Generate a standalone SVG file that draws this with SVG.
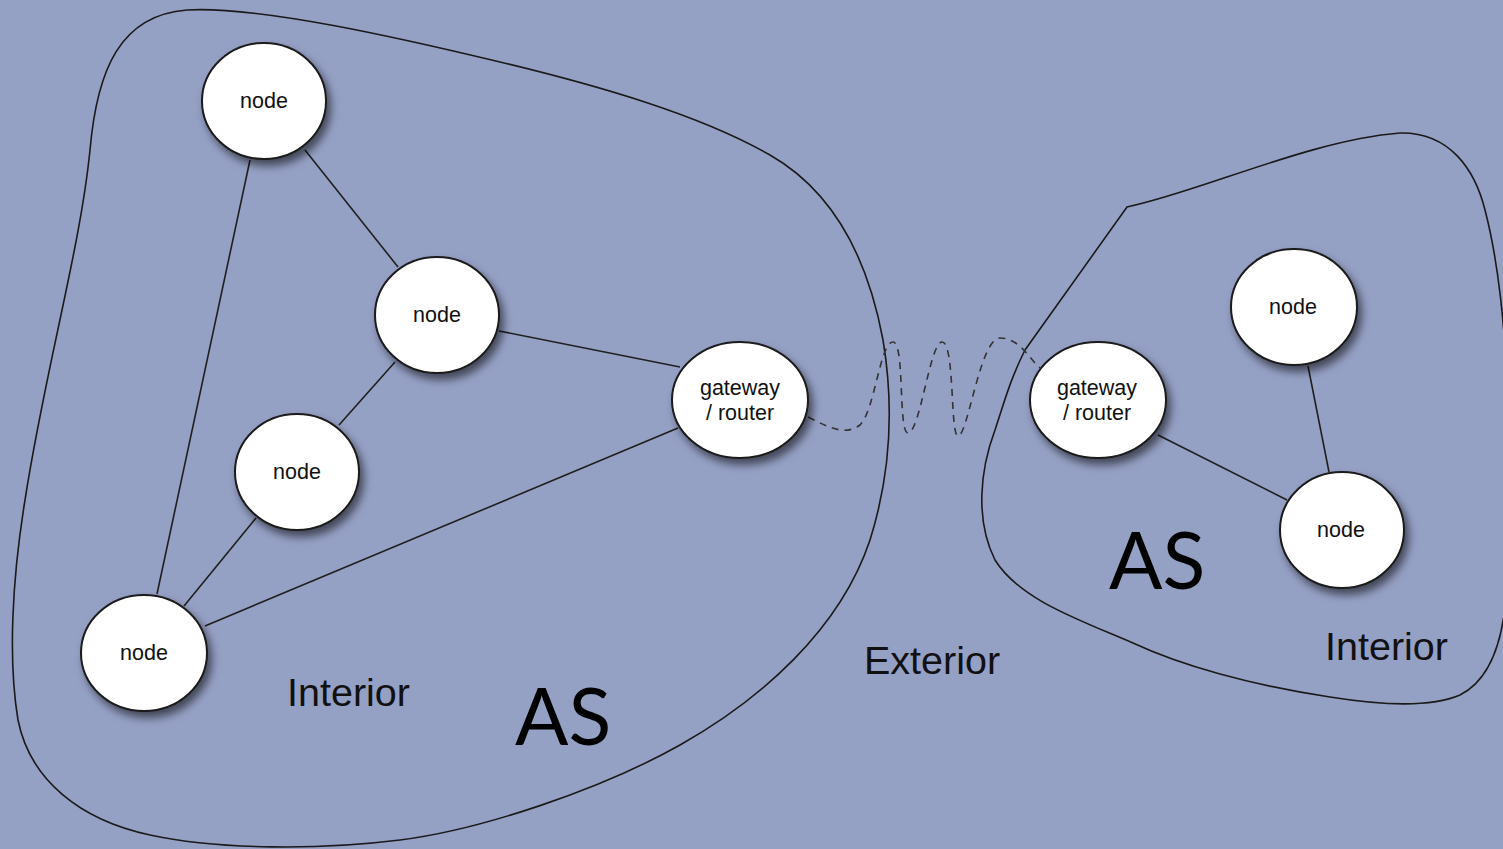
<svg xmlns="http://www.w3.org/2000/svg" width="1503" height="849" viewBox="0 0 1503 849">
<defs>
<filter id="sh" x="-30%" y="-30%" width="160%" height="160%">
<feDropShadow dx="4" dy="6" stdDeviation="4" flood-color="#000" flood-opacity="0.55"/>
</filter>
<style>
.blob{fill:none;stroke:#1a1a1a;stroke-width:1.6}
.node{fill:#fff;stroke:#1a1a1a;stroke-width:2;filter:url(#sh)}
.edge{stroke:#1f1f1f;stroke-width:1.6;fill:none}
.wave{stroke:#333;stroke-width:1.6;fill:none;stroke-dasharray:7 6}
.lbl{font-family:"Liberation Sans",Arial,sans-serif;font-size:21.5px;fill:#111;text-anchor:middle}
.big{font-family:"Liberation Sans",Arial,sans-serif;font-size:39.5px;fill:#111}
.as{font-family:Lato,"Liberation Sans",sans-serif;font-size:79px;fill:#000}
</style>
</defs>
<rect width="1503" height="849" fill="#95A0C5"/>
<g id="as-left">
<path class="blob" d="M187,10 C260,6 400,38 500,62 C600,86 700,115 770,155 C840,195 870,270 883,340 C893,400 892,470 870,540 C840,630 760,700 680,745 C600,790 480,830 400,840 C320,850 220,850 150,835 C80,820 30,780 18,720 C8,660 12,580 25,500 C45,370 80,250 90,150 C97,70 120,15 187,10 Z"/>
</g>
<g id="as-right">
<path class="blob" d="M1127,207 C1200,192 1310,140 1400,133 C1450,132 1475,170 1485,210 C1498,260 1506,330 1507,400 L1507,580 C1505,640 1490,680 1460,695 C1430,708 1380,705 1330,697 C1250,685 1180,665 1133,643 C1080,620 1020,600 995,560 C975,520 980,470 995,430 C1005,400 1010,380 1025,350 L1127,207 Z"/>
</g>
<g id="connectors">
<line class="edge" x1="305" y1="150" x2="398" y2="267"/>
<line class="edge" x1="250" y1="160" x2="157" y2="594"/>
<line class="edge" x1="395" y1="362" x2="339" y2="425"/>
<line class="edge" x1="499" y1="331" x2="680" y2="367"/>
<line class="edge" x1="256" y1="518" x2="184" y2="606"/>
<line class="edge" x1="205" y1="626" x2="678" y2="428"/>
<line class="edge" x1="1158" y1="435" x2="1287" y2="500"/>
<line class="edge" x1="1308" y1="366" x2="1329" y2="472"/>
<path class="wave" d="M808,417 C830,428 845,436 860,425 C875,410 880,342 893,342 C905,342 898,433 908,433 C920,433 930,342 942,342 C955,342 950,436 958,436 C968,436 980,338 1000,338 C1020,338 1030,360 1040,368"/>
</g>
<g id="node-1"><ellipse class="node" cx="264" cy="101" rx="62" ry="58"/><text class="lbl" x="264" y="108">node</text></g>
<g id="node-2"><ellipse class="node" cx="437" cy="315" rx="62" ry="58"/><text class="lbl" x="437" y="322">node</text></g>
<g id="node-3"><ellipse class="node" cx="297" cy="472" rx="62" ry="58"/><text class="lbl" x="297" y="479">node</text></g>
<g id="node-4"><ellipse class="node" cx="144" cy="653" rx="63" ry="58"/><text class="lbl" x="144" y="660">node</text></g>
<g id="gateway-left"><ellipse class="node" cx="740" cy="400" rx="68" ry="58"/><text class="lbl" x="740" y="395">gateway</text><text class="lbl" x="740" y="420">/ router</text></g>
<g id="gateway-right"><ellipse class="node" cx="1098" cy="400" rx="68" ry="58"/><text class="lbl" x="1097" y="395">gateway</text><text class="lbl" x="1097" y="420">/ router</text></g>
<g id="node-5"><ellipse class="node" cx="1294" cy="307" rx="63" ry="58"/><text class="lbl" x="1293" y="314">node</text></g>
<g id="node-6"><ellipse class="node" cx="1342" cy="530" rx="62" ry="58"/><text class="lbl" x="1341" y="537">node</text></g>
<g id="labels">
<text class="big" x="287" y="706">Interior</text>
<text class="as" x="515" y="745">AS</text>
<text class="big" x="864" y="674">Exterior</text>
<text class="as" x="1109" y="589">AS</text>
<text class="big" x="1325" y="660">Interior</text>
</g>
</svg>
